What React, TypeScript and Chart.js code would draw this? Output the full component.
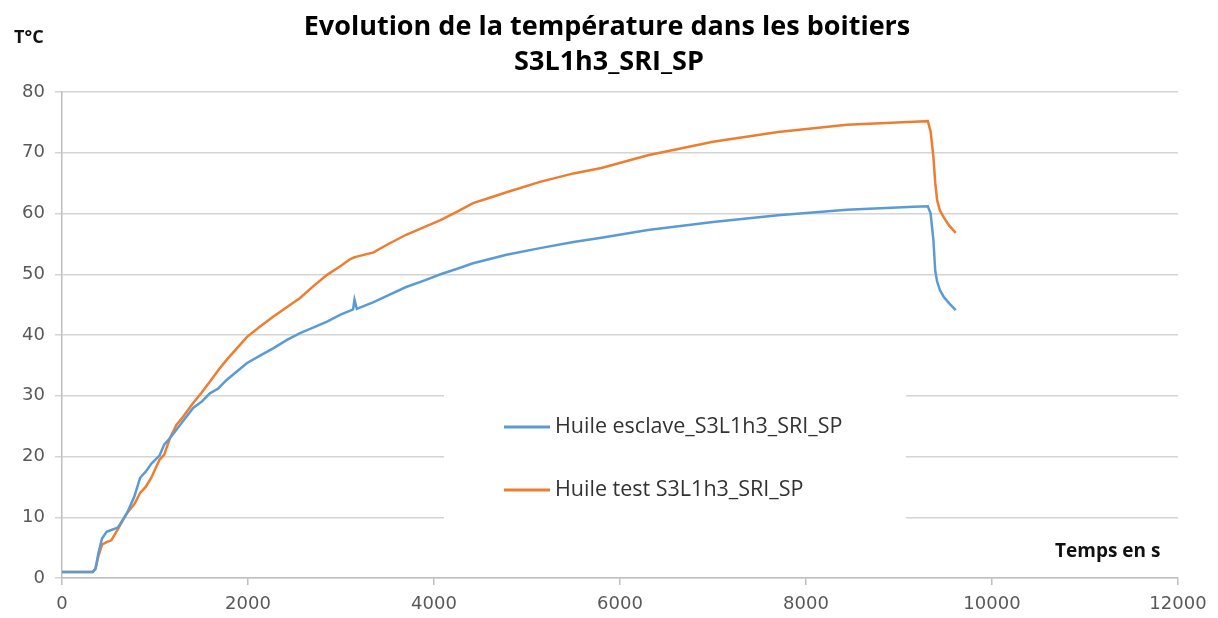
import React, { useEffect, useRef } from "react";
import { Chart, registerables } from "chart.js";

Chart.register(...registerables);

const titleLines = ["Evolution de la température dans les boitiers", "S3L1h3_SRI_SP"];
const yAxisLabel = "T°C";
const xAxisLabel = "Temps en s";
const seriesNames = ["Huile esclave_S3L1h3_SRI_SP", "Huile test S3L1h3_SRI_SP"];
const seriesColors = ["#5B9BD5", "#ED7D31"];

const times = [
  0, 100, 200, 330, 360, 390, 430, 480, 530, 600, 700, 780, 840, 900, 960, 1050, 1100, 1160, 1230, 1300,
  1410, 1500, 1590, 1680, 1770, 1880, 1990, 2130, 2270, 2420, 2560, 2700, 2850, 3000, 3100, 3130, 3145,
  3170, 3350, 3500, 3700, 3900, 4070, 4250, 4420, 4600, 4780, 5140, 5500, 5800, 6300, 7000, 7700, 8440,
  9160, 9310, 9340, 9370, 9390, 9410, 9440, 9480, 9540, 9610,
];

const huileEsclave = [
  1.0, 1.0, 1.0, 1.0, 1.5, 4.0, 6.5, 7.6, 7.9, 8.3, 10.7, 13.5, 16.5, 17.5, 18.8, 20.2, 22.0, 23.0, 24.4, 25.8,
  28.0, 29.0, 30.4, 31.2, 32.6, 34.0, 35.4, 36.6, 37.8, 39.2, 40.3, 41.2, 42.2, 43.4, 44.0, 44.2, 45.8,
  44.3, 45.4, 46.5, 47.9, 49.0, 50.0, 50.9, 51.8, 52.5, 53.2, 54.3, 55.3, 56.0, 57.3, 58.6, 59.7, 60.6,
  61.1, 61.2, 60.0, 55.6, 50.5, 48.8, 47.4, 46.3, 45.2, 44.1,
];

const huileTest = [
  1.0, 1.0, 1.0, 1.0, 1.5, 3.5, 5.5, 5.9, 6.2, 8.0, 10.7, 12.2, 14.0, 15.0, 16.5, 19.5, 20.3, 23.0, 25.2, 26.5,
  28.8, 30.5, 32.3, 34.2, 35.9, 37.8, 39.7, 41.4, 43.0, 44.6, 46.1, 48.0, 49.9, 51.4, 52.5, 52.7, 52.8,
  52.9, 53.6, 54.9, 56.5, 57.8, 58.9, 60.3, 61.7, 62.6, 63.5, 65.2, 66.6, 67.5, 69.6, 71.8, 73.4, 74.6,
  75.1, 75.2, 73.5, 69.3, 65.0, 62.2, 60.5, 59.4, 58.0, 56.8,
];

const seriesValues = [huileEsclave, huileTest];

const FONT = "'Open Sans', 'Noto Sans', sans-serif";
const TICK_FONT = "'DejaVu Sans', 'Open Sans', sans-serif";

const decorPlugin = {
  id: "decor",
  beforeDatasetsDraw(chart: any) {
    const ctx = chart.ctx;
    ctx.save();
    ctx.fillStyle = "#ffffff";
    ctx.fillRect(444, 390, 462, 132);
    const entries = [
      { y: 427, i: 0 },
      { y: 490, i: 1 },
    ];
    ctx.font = `21.5px ${FONT}`;
    ctx.textBaseline = "middle";
    ctx.textAlign = "left";
    for (const e of entries) {
      const ds = chart.data.datasets[e.i];
      ctx.strokeStyle = ds.borderColor;
      ctx.lineWidth = 3;
      ctx.beginPath();
      ctx.moveTo(504, e.y);
      ctx.lineTo(550, e.y);
      ctx.stroke();
      ctx.fillStyle = "#333333";
      ctx.fillText(ds.label, 555, e.y);
    }
    ctx.restore();
  },
  afterDraw(chart: any) {
    const ctx = chart.ctx;
    ctx.save();
    ctx.fillStyle = "#000000";
    ctx.textAlign = "center";
    ctx.textBaseline = "middle";
    ctx.font = `bold 27px ${FONT}`;
    ctx.fillText(titleLines[0], 607, 27);
    ctx.fillText(titleLines[1], 609, 62);
    ctx.font = `bold 18px ${FONT}`;
    ctx.textAlign = "left";
    ctx.fillStyle = "#111111";
    ctx.fillText(yAxisLabel, 14, 38);
    ctx.font = `bold 19px ${FONT}`;
    ctx.fillText(xAxisLabel, 1055, 552);
    ctx.restore();
  },
};

export default function App() {
  const ref = useRef<HTMLCanvasElement | null>(null);
  useEffect(() => {
    if (!ref.current) return;
    const chart = new Chart(ref.current, {
      type: "line",
      data: {
        datasets: seriesNames.map((name, i) => ({
          label: name,
          data: times.map((t, k) => ({ x: t, y: seriesValues[i][k] })),
          borderColor: seriesColors[i],
          backgroundColor: seriesColors[i],
          borderWidth: 2.5,
          pointRadius: 0,
          tension: 0,
          fill: false,
        })),
      },
      options: {
        animation: false,
        responsive: false,
        maintainAspectRatio: false,
        layout: { padding: { top: 92, right: 40, left: 0, bottom: 0 } },
        plugins: {
          legend: { display: false },
          title: { display: false },
          tooltip: { enabled: false },
        },
        scales: {
          x: {
            type: "linear",
            min: 0,
            max: 12000,
            ticks: {
              stepSize: 2000,
              color: "#595959",
              font: { family: TICK_FONT, size: 18 },
              padding: 9,
              maxRotation: 0,
              callback: (v: any) => String(v),
            },
            grid: { display: true, drawOnChartArea: false, drawTicks: true, tickLength: 7, color: "#bfbfbf", lineWidth: 1.5 },
            border: { display: true, color: "#bfbfbf", width: 1.5 },
            afterFit(axis: any) {
              axis.height = 40;
            },
          },
          y: {
            type: "linear",
            min: 0,
            max: 80,
            ticks: {
              stepSize: 10,
              color: "#595959",
              font: { family: TICK_FONT, size: 18 },
              padding: 10,
            },
            grid: { color: "#d4d4d4", lineWidth: 1.5, tickLength: 7, drawTicks: true },
            border: { display: true, color: "#bfbfbf", width: 1.5 },
            afterFit(axis: any) {
              axis.width = 62;
            },
          },
        },
      },
      plugins: [decorPlugin],
    });
    return () => chart.destroy();
  }, []);
  return (
    <div style={{ position: "absolute", left: 0, top: 0, width: 1218, height: 618, background: "#fff" }}>
      <canvas ref={ref} width={1218} height={618} style={{ display: "block" }} />
    </div>
  );
}
